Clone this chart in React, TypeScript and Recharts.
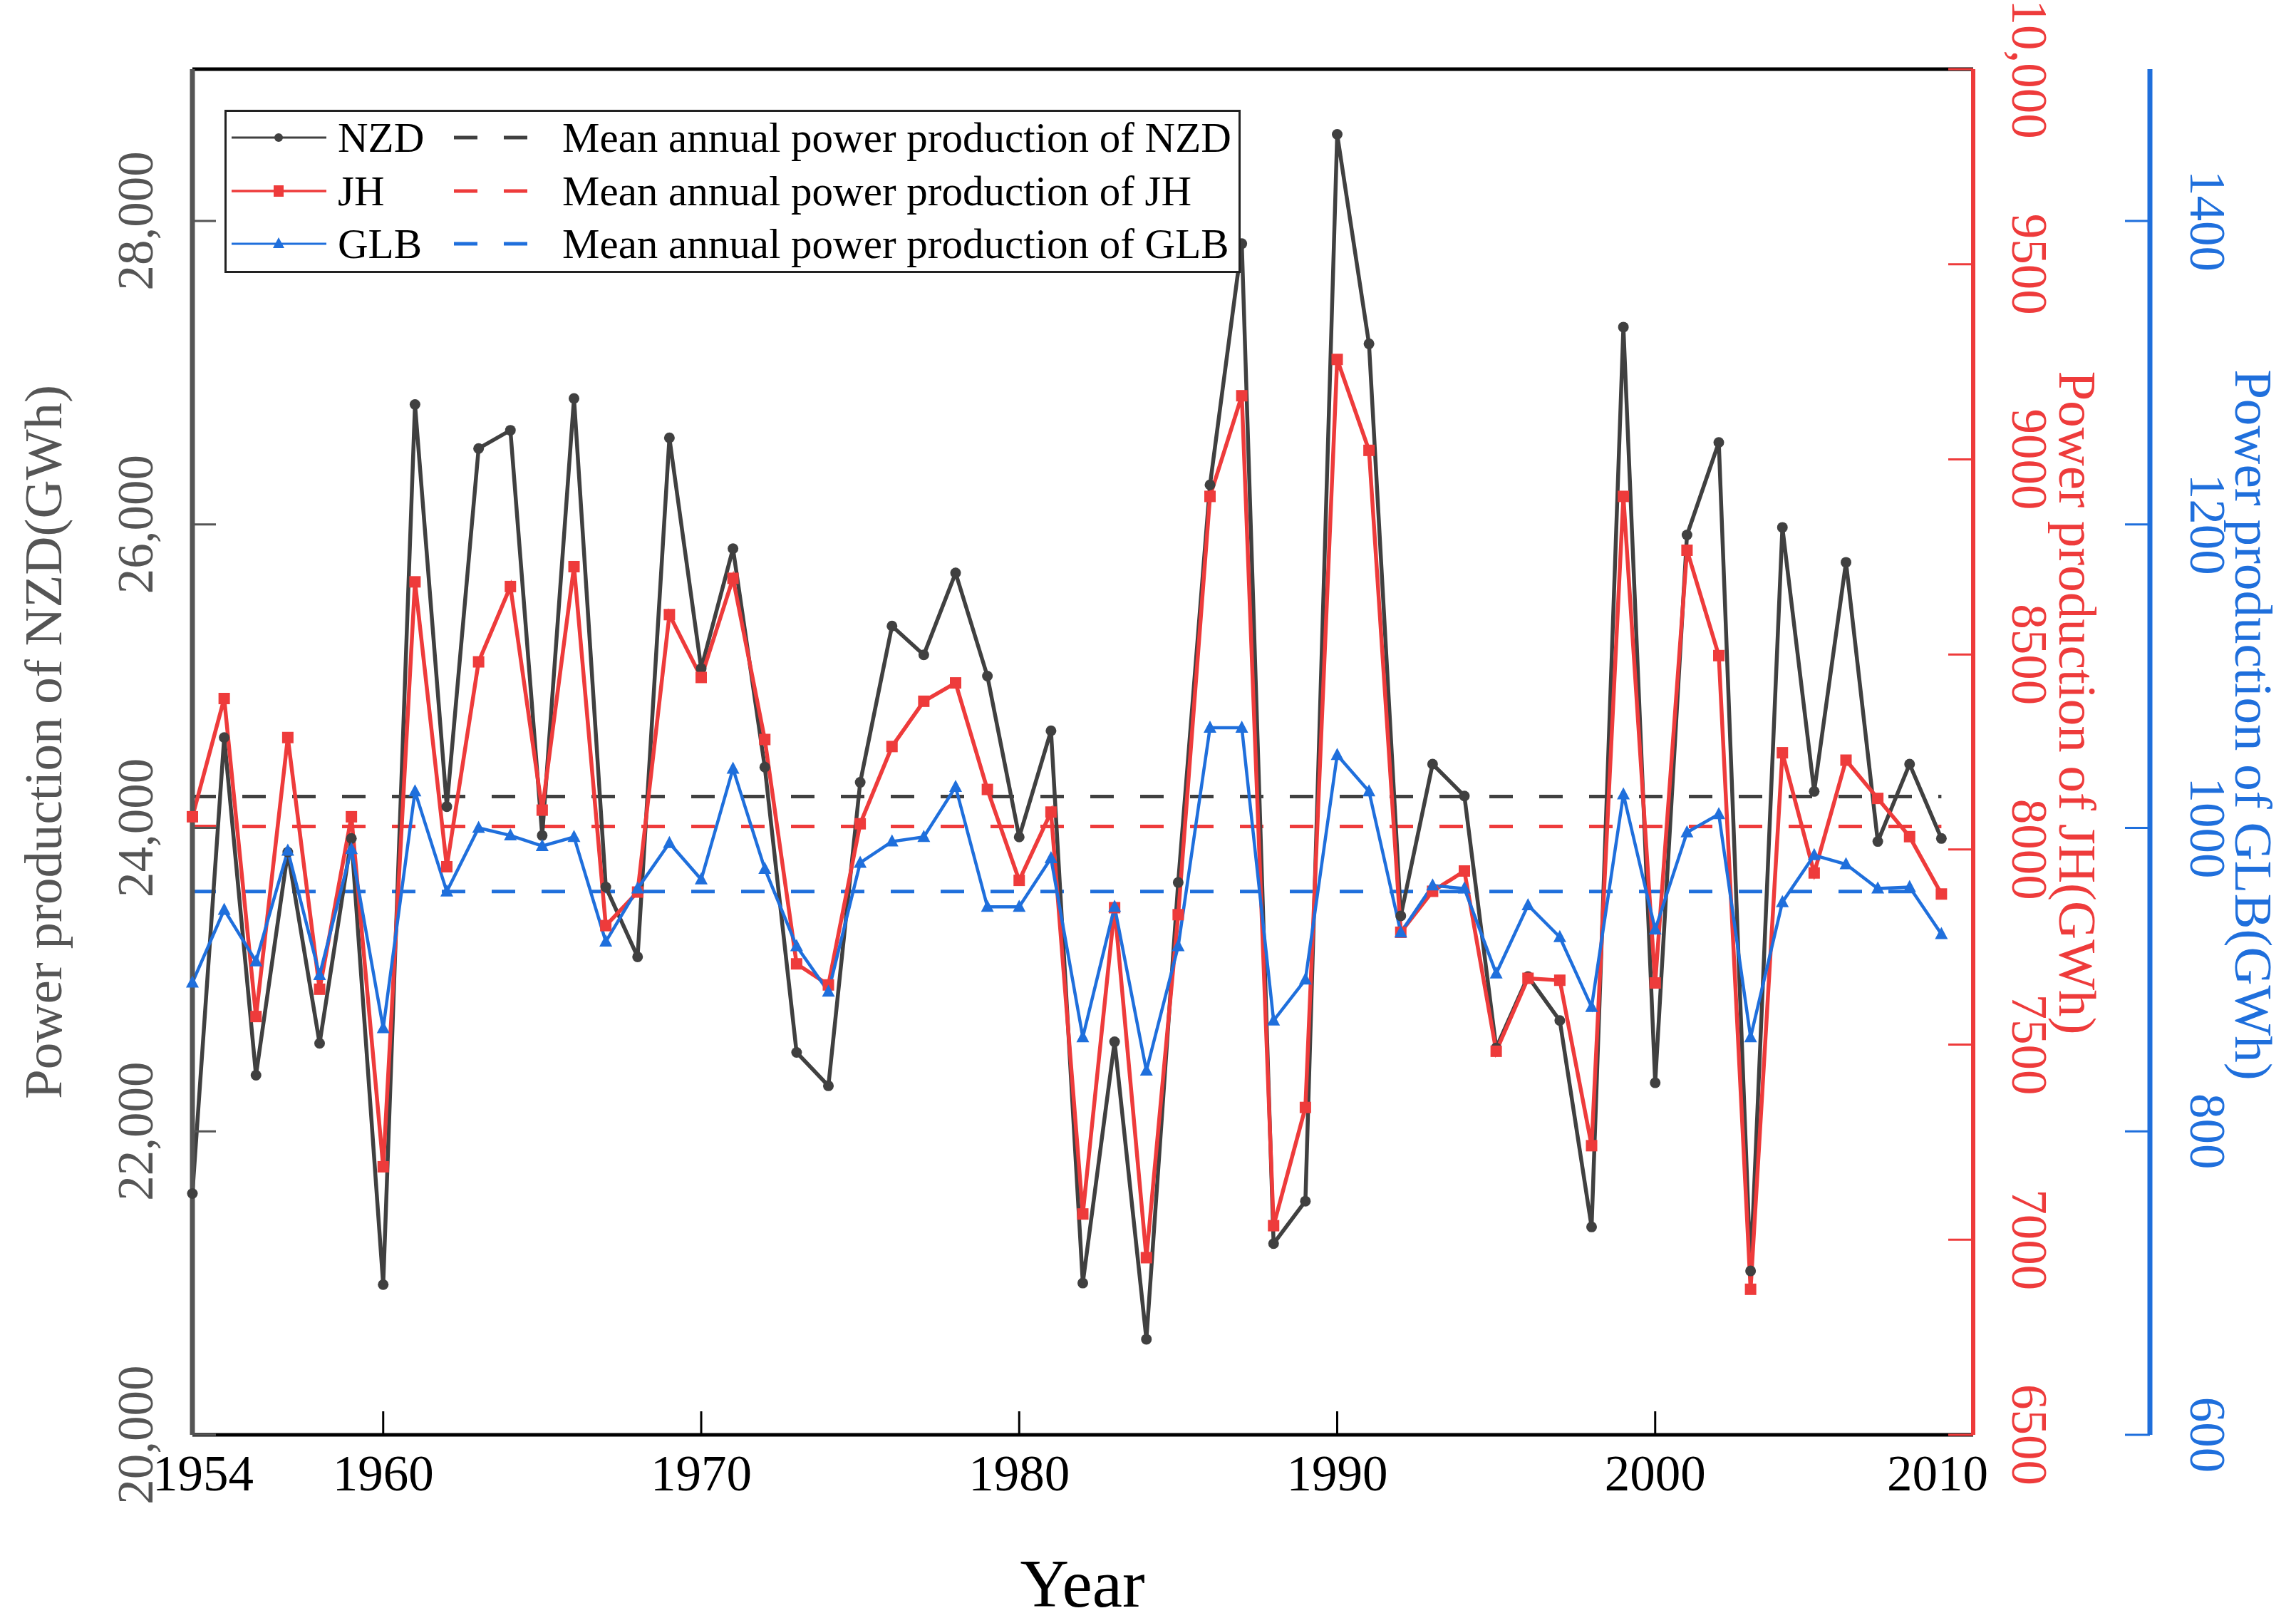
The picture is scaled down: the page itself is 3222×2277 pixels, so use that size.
import React from "react";
import { LineChart, Line, XAxis, YAxis, ReferenceLine } from "recharts";

const YEARS = [
  1954, 1955, 1956, 1957, 1958, 1959, 1960, 1961, 1962, 1963, 1964, 1965, 1966, 1967,
  1968, 1969, 1970, 1971, 1972, 1973, 1974, 1975, 1976, 1977, 1978, 1979, 1980, 1981,
  1982, 1983, 1984, 1985, 1986, 1987, 1988, 1989, 1990, 1991, 1992, 1993, 1994, 1995,
  1996, 1997, 1998, 1999, 2000, 2001, 2002, 2003, 2004, 2005, 2006, 2007, 2008, 2009,
];

// NZD annual power production (GWh)
const NZD = [
  21590, 24595, 22370, 23840, 22580, 23930, 20990, 26790, 24140, 26500, 26620, 23950, 26830, 23610,
  23150, 26570, 25050, 25840, 24400, 22520, 22300, 24300, 25330, 25140, 25680, 25000, 23940, 24640,
  21000, 22590, 20630, 23640, 26260, 27850, 21260, 21540, 28570, 27190, 23420, 24420, 24210, 22550,
  23020, 22730, 21370, 27300, 22320, 25930, 26540, 21080, 25980, 24240, 25750, 23910, 24420, 23930,
];

// JH annual power production (GWh)
const JH = [
  8084, 8387, 7572, 8287, 7642, 8084, 7187, 8686, 7956, 8481, 8674, 8101, 8725, 7805,
  7891, 8602, 8441, 8695, 8282, 7707, 7653, 8066, 8264, 8380, 8427, 8154, 7921, 8096,
  7066, 7851, 6954, 7833, 8905, 9163, 7036, 7339, 9256, 9023, 7788, 7893, 7945, 7483,
  7670, 7665, 7241, 8905, 7658, 8767, 8497, 6873, 8248, 7940, 8229, 8131, 8033, 7886,
];

// GLB annual power production (GWh)
const GLB = [
  898, 946, 912, 985, 903, 986, 868, 1024, 958, 1000, 995, 988, 994, 925,
  960, 990, 966, 1039, 973, 922, 892, 977, 991, 994, 1027, 948, 948, 980,
  862, 948, 840, 922, 1066, 1066, 873, 900, 1048, 1024, 931, 962, 960, 904,
  949, 928, 882, 1022, 933, 997, 1009, 862, 951, 982, 976, 960, 961, 930,
];

const MEAN_NZD = 24206;
const MEAN_JH = 8059;
const MEAN_GLB = 958;

const X_TICKS = [1954, 1960, 1970, 1980, 1990, 2000, 2010];
const NZD_TICKS = [20000, 22000, 24000, 26000, 28000];
const JH_TICKS = [6500, 7000, 7500, 8000, 8500, 9000, 9500, 10000];
const GLB_TICKS = [600, 800, 1000, 1200, 1400];

const rows = YEARS.map((year, i) => ({ year, nzd: NZD[i], jh: JH[i], glb: GLB[i] }));

const FONT = '"Liberation Serif", "Times New Roman", serif';
const C_NZD = "#404040";
const C_AX = "#555555";
const C_JH = "#ee3b3b";
const C_GLB = "#1f6fdc";

// axis ids: right axes are laid out in id order, JH sits next to the plot
const ID_NZD = "a_nzd";
const ID_JH = "b_jh";
const ID_GLB = "c_glb";

const withComma = (v: number) => v.toLocaleString("en-US");

const RotTick = ({ y, payload, cx, rot, fill, fmt }: any) => (
  <text
    x={cx}
    y={y}
    transform={`rotate(${rot} ${cx} ${y})`}
    textAnchor="middle"
    dominantBaseline="central"
    fontSize={71}
    fontFamily={FONT}
    fill={fill}
  >
    {fmt(payload.value)}
  </text>
);

const YearTick = ({ x, payload }: any) => {
  let dx = 0;
  if (payload.value === 1954) dx = 15;
  if (payload.value === 2010) dx = -50;
  return (
    <text x={x + dx} y={2067} textAnchor="middle" dominantBaseline="central" fontSize={71} fontFamily={FONT} fill="#000">
      {payload.value}
    </text>
  );
};

const Title = ({ tx, ty, rot, color, caption, size }: any) => (
  <text
    x={tx}
    y={ty}
    transform={`rotate(${rot} ${tx} ${ty})`}
    textAnchor="middle"
    dominantBaseline="central"
    fontSize={size || 75}
    fontFamily={FONT}
    fill={color}
  >
    {caption}
  </text>
);

const circleDot = (p: any) =>
  p.cx == null ? null : <circle key={`c${p.index}`} cx={p.cx} cy={p.cy} r={7.5} fill={C_NZD} />;
const squareDot = (p: any) =>
  p.cx == null ? null : <rect key={`s${p.index}`} x={p.cx - 8} y={p.cy - 8} width={16} height={16} fill={C_JH} />;
const triDot = (p: any) =>
  p.cx == null ? null : (
    <polygon
      key={`t${p.index}`}
      points={`${p.cx},${p.cy - 10} ${p.cx - 9},${p.cy + 7} ${p.cx + 9},${p.cy + 7}`}
      fill={C_GLB}
    />
  );

function LegendBox() {
  const items = [
    { name: "NZD", color: C_NZD, marker: "c", w: 3 },
    { name: "JH", color: C_JH, marker: "s", w: 3.5 },
    { name: "GLB", color: C_GLB, marker: "t", w: 3 },
  ];
  const ys = [39, 114, 188];
  return (
    <svg width={1426} height={229} style={{ position: "absolute", left: 315, top: 154 }}>
      <rect x={1.5} y={1.5} width={1423} height={226} fill="#fff" stroke="#222" strokeWidth={3} />
      {items.map((it, i) => {
        const y = ys[i];
        return (
          <g key={it.name}>
            <line x1={10} x2={143} y1={y} y2={y} stroke={it.color} strokeWidth={it.w} />
            {it.marker === "c" && <circle cx={76} cy={y} r={6} fill={it.color} />}
            {it.marker === "s" && <rect x={69} y={y - 8} width={14} height={16} fill={it.color} />}
            {it.marker === "t" && <polygon points={`76,${y - 9} 68,${y + 6} 84,${y + 6}`} fill={it.color} />}
            <text x={159} y={y} dominantBaseline="central" fontSize={59} fontFamily={FONT} fill="#000">
              {it.name}
            </text>
            <line x1={322} x2={425} y1={y} y2={y} stroke={it.color} strokeWidth={5} strokeDasharray="33 37" />
            <text x={474} y={y} dominantBaseline="central" fontSize={59} fontFamily={FONT} fill="#000">
              {`Mean annual power production of ${it.name}`}
            </text>
          </g>
        );
      })}
    </svg>
  );
}

export default function App() {
  return (
    <div style={{ position: "absolute", left: 0, top: 0, width: 3222, height: 2277, background: "#fff" }}>
      <LineChart width={3222} height={2277} data={rows} margin={{ top: 97, right: 0, bottom: 0, left: 0 }}>
        <XAxis
          dataKey="year"
          type="number"
          domain={[1954, 2010]}
          ticks={X_TICKS}
          interval={0}
          height={264}
          tickSize={-33}
          axisLine={{ stroke: "#000", strokeWidth: 5 }}
          tickLine={{ stroke: "#000", strokeWidth: 3 }}
          tick={<YearTick />}
          label={<Title tx={1519} ty={2222} rot={0} color="#000" caption="Year" size={95} />}
        />
        <YAxis
          yAxisId={ID_NZD}
          orientation="left"
          width={270}
          domain={[20000, 29000]}
          ticks={NZD_TICKS}
          interval={0}
          tickSize={-33}
          axisLine={{ stroke: C_AX, strokeWidth: 7 }}
          tickLine={{ stroke: C_AX, strokeWidth: 3 }}
          tick={<RotTick cx={190} rot={-90} fill={C_AX} fmt={withComma} />}
          label={<Title tx={60} ty={1041} rot={-90} color={C_AX} caption="Power production of NZD(GWh)" />}
        />
        <YAxis
          yAxisId={ID_JH}
          orientation="right"
          width={248}
          domain={[6500, 10000]}
          ticks={JH_TICKS}
          interval={0}
          tickSize={-35}
          axisLine={{ stroke: C_JH, strokeWidth: 6 }}
          tickLine={{ stroke: C_JH, strokeWidth: 3 }}
          tick={<RotTick cx={2848} rot={90} fill={C_JH} fmt={(v: number) => (v >= 10000 ? withComma(v) : String(v))} />}
          label={<Title tx={2915} ty={986} rot={90} color={C_JH} caption="Power production of JH(GWh)" />}
        />
        <YAxis
          yAxisId={ID_GLB}
          orientation="right"
          width={205}
          domain={[600, 1500]}
          ticks={GLB_TICKS}
          interval={0}
          tickSize={-35}
          axisLine={{ stroke: C_GLB, strokeWidth: 7 }}
          tickLine={{ stroke: C_GLB, strokeWidth: 3 }}
          tick={<RotTick cx={3098} rot={90} fill={C_GLB} fmt={String} />}
          label={<Title tx={3162} ty={1017} rot={90} color={C_GLB} caption="Power production of GLB(GWh)" />}
        />
        <ReferenceLine yAxisId={ID_NZD} y={29000} stroke="#000" strokeWidth={5} />
        <ReferenceLine
          yAxisId={ID_NZD}
          segment={[{ x: 1954, y: MEAN_NZD }, { x: 2009, y: MEAN_NZD }]}
          stroke={C_NZD}
          strokeWidth={5}
          strokeDasharray="33 37"
        />
        <ReferenceLine
          yAxisId={ID_JH}
          segment={[{ x: 1954, y: MEAN_JH }, { x: 2009, y: MEAN_JH }]}
          stroke={C_JH}
          strokeWidth={5}
          strokeDasharray="33 37"
        />
        <ReferenceLine
          yAxisId={ID_GLB}
          segment={[{ x: 1954, y: MEAN_GLB }, { x: 2009, y: MEAN_GLB }]}
          stroke={C_GLB}
          strokeWidth={5}
          strokeDasharray="33 37"
        />
        <Line yAxisId={ID_NZD} dataKey="nzd" type="linear" stroke={C_NZD} strokeWidth={5.5} dot={circleDot} activeDot={false} isAnimationActive={false} />
        <Line yAxisId={ID_JH} dataKey="jh" type="linear" stroke={C_JH} strokeWidth={5.5} dot={squareDot} activeDot={false} isAnimationActive={false} />
        <Line yAxisId={ID_GLB} dataKey="glb" type="linear" stroke={C_GLB} strokeWidth={4.5} dot={triDot} activeDot={false} isAnimationActive={false} />
      </LineChart>
      <LegendBox />
    </div>
  );
}
